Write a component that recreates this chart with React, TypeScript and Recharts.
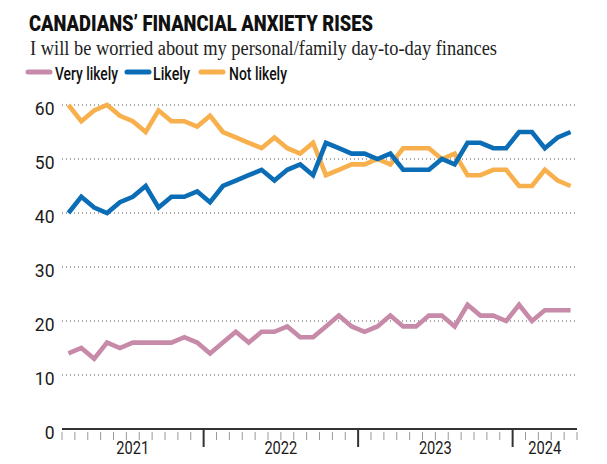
import React from 'react';
import { LineChart, Line, XAxis, YAxis, CartesianGrid } from 'recharts';

const months = [
  '2021-02', '2021-03', '2021-04', '2021-05', '2021-06', '2021-07', '2021-08', '2021-09', '2021-10', '2021-11', '2021-12',
  '2022-01', '2022-02', '2022-03', '2022-04', '2022-05', '2022-06', '2022-07', '2022-08', '2022-09', '2022-10', '2022-11', '2022-12',
  '2023-01', '2023-02', '2023-03', '2023-04', '2023-05', '2023-06', '2023-07', '2023-08', '2023-09', '2023-10', '2023-11', '2023-12',
  '2024-01', '2024-02', '2024-03', '2024-04', '2024-05',
];

const veryLikely = [14, 15, 13, 16, 15, 16, 16, 16, 16, 17, 16, 14, 16, 18, 16, 18, 18, 19, 17, 17, 19, 21, 19, 18, 19, 21, 19, 19, 21, 21, 19, 23, 21, 21, 20, 23, 20, 22, 22, 22];
const likely = [40, 43, 41, 40, 42, 43, 45, 41, 43, 43, 44, 42, 45, 46, 47, 48, 46, 48, 49, 47, 53, 52, 51, 51, 50, 51, 48, 48, 48, 50, 49, 53, 53, 52, 52, 55, 55, 52, 54, 55];
const notLikely = [60, 57, 59, 60, 58, 57, 55, 59, 57, 57, 56, 58, 55, 54, 53, 52, 54, 52, 51, 53, 47, 48, 49, 49, 50, 49, 52, 52, 52, 50, 51, 47, 47, 48, 48, 45, 45, 48, 46, 45];

const yearLabels = ['2021', '2022', '2023', '2024'];
const yTicks = [0, 10, 20, 30, 40, 50, 60];

const seriesNames = ['Very likely', 'Likely', 'Not likely'];
const seriesKeys = ['veryLikely', 'likely', 'notLikely'];
const seriesColors = ['#c78aa8', '#0a6db5', '#f8b04c'];

const title = 'CANADIANS\u2019 FINANCIAL ANXIETY RISES';
const subtitle = 'I will be worried about my personal/family day-to-day finances';

const data = months.map((m, i) => ({
  idx: i,
  month: m,
  veryLikely: veryLikely[i],
  likely: likely[i],
  notLikely: notLikely[i],
}));

const yearCenters = yearLabels.map((yr) => {
  const idxs = months.map((m, i) => (m.startsWith(yr) ? i : -1)).filter((i) => i >= 0);
  return (idxs[0] + idxs[idxs.length - 1]) / 2;
});

const boundaries = months.map((_, i) => i - 0.5).concat([months.length - 0.5]);
const xTicks = Array.from(new Set([...boundaries, ...yearCenters])).sort((a, b) => a - b);

const SANS = 'Roboto, "Liberation Sans", sans-serif';

const XTick = (props: any) => {
  const { x, y, payload } = props;
  const v = payload.value as number;
  const isBoundary = Number.isInteger(v + 0.5);
  const mIdx = v + 0.5;
  const isMajor = isBoundary && mIdx > 0 && mIdx < months.length && months[mIdx].endsWith('-01');
  const yi = yearCenters.findIndex((c) => Math.abs(c - v) < 1e-6);
  return (
    <g>
      {isBoundary && (
        <line
          x1={x}
          x2={x}
          y1={isMajor ? y + 1 : y + 3}
          y2={isMajor ? y + 18 : y + 11}
          stroke={isMajor ? '#333' : '#9a9a9a'}
          strokeWidth={isMajor ? 2 : 1}
        />
      )}
      {yi >= 0 && (
        <text
          x={x}
          y={y + 25}
          textAnchor="middle"
          fontFamily={SANS}
          fontSize={17.5}
          fill="#1a1a1a"
          textLength={33}
          lengthAdjust="spacingAndGlyphs"
        >
          {yearLabels[yi]}
        </text>
      )}
    </g>
  );
};

const YTick = (props: any) => {
  const { x, y, payload } = props;
  return (
    <text x={x - 7.5} y={y + 10} textAnchor="end" fontFamily={SANS} fontSize={17.5} fill="#1a1a1a">
      {payload.value}
    </text>
  );
};

const legendItems = [
  { sx: 28, tx: 55, tw: 63 },
  { sx: 127, tx: 153, tw: 37 },
  { sx: 201, tx: 229, tw: 58 },
];

export default function App() {
  return (
    <div style={{ position: 'absolute', left: 0, top: 0, width: 607, height: 464, background: '#fff' }}>
      <div style={{ position: 'absolute', left: 0, top: 0 }}>
        <LineChart width={607} height={464} data={data} margin={{ top: 105, right: 30, bottom: 0, left: 0 }}>
          <CartesianGrid vertical={false} stroke="#555" strokeDasharray="1 3" />
          <XAxis
            dataKey="idx"
            type="number"
            domain={[-0.5, months.length - 0.5]}
            ticks={xTicks}
            interval={0}
            tick={<XTick />}
            tickLine={false}
            tickSize={0}
            tickMargin={0}
            axisLine={{ stroke: '#333', strokeWidth: 2 }}
            height={35}
            allowDataOverflow
          />
          <YAxis
            type="number"
            domain={[0, 60]}
            ticks={yTicks}
            interval={0}
            tick={<YTick />}
            tickLine={false}
            tickSize={0}
            tickMargin={0}
            axisLine={false}
            width={62}
          />
          {[2, 1, 0].map((s) => (
            <Line
              key={seriesKeys[s]}
              dataKey={seriesKeys[s]}
              name={seriesNames[s]}
              type="linear"
              stroke={seriesColors[s]}
              strokeWidth={4.6}
              dot={false}
              activeDot={false}
              isAnimationActive={false}
            />
          ))}
        </LineChart>
      </div>
      <svg width={607} height={92} style={{ position: 'absolute', left: 0, top: 0, pointerEvents: 'none', overflow: 'visible' }}>
        <text
          x={29}
          y={31}
          fontFamily={SANS}
          fontWeight={900}
          fontSize={22.5}
          fill="#111"
          textLength={344}
          lengthAdjust="spacingAndGlyphs"
        >
          {title}
        </text>
        <text
          x={30}
          y={55}
          fontFamily='"Liberation Serif", "DejaVu Serif", serif'
          fontSize={20}
          fill="#222"
          textLength={467}
          lengthAdjust="spacingAndGlyphs"
        >
          {subtitle}
        </text>
        {legendItems.map((it, i) => (
          <g key={i}>
            <line x1={it.sx} x2={it.sx + 22} y1={72} y2={72} stroke={seriesColors[i]} strokeWidth={5} strokeLinecap="round" />
            <text
              x={it.tx}
              y={80}
              fontFamily={SANS}
              fontWeight={500}
              fontSize={18.5}
              fill="#111"
              textLength={it.tw}
              lengthAdjust="spacingAndGlyphs"
            >
              {seriesNames[i]}
            </text>
          </g>
        ))}
      </svg>
    </div>
  );
}
